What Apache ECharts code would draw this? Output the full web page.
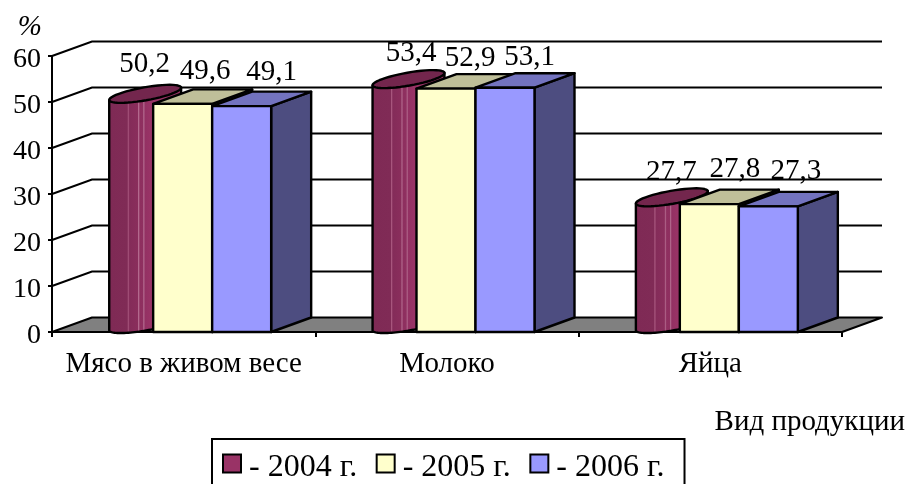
<!DOCTYPE html>
<html><head><meta charset="utf-8">
<style>html,body{margin:0;padding:0;background:#fff;overflow:hidden}#c{width:908px;height:484px}</style>
<script src="https://cdn.jsdelivr.net/npm/echarts@6/dist/echarts.min.js"></script>
</head><body><div id="c"></div>
<script>
var categories = ['Мясо в живом весе', 'Молоко', 'Яйца'];
var yTicks = [0, 10, 20, 30, 40, 50, 60];
var values2004 = [50.2, 53.4, 27.7];
var values2005 = [49.6, 52.9, 27.8];
var values2006 = [49.1, 53.1, 27.3];
var seriesNames = ['- 2004 г.', '- 2005 г.', '- 2006 г.'];

// layout constants
var FONT = '"Liberation Serif","Times New Roman",serif';
var DX = 40, DY = 14.5, BAR_W = 59, SHIFT = -1, LW = 2, BAR_LW = 2.4;
// label offset from the top-front centre of each bar
var labelNudge = [
  [[21, -37], [24, -33], [21, -32]],
  [[22.5, -32.5], [24, -30], [25.5, -35]],
  [[30, -34], [24.5, -30], [27.5, -35]]
];
var stripes = new echarts.graphic.LinearGradient(0, 0, 1, 0, [
  {offset: 0, color: '#6f2449'}, {offset: 0.03, color: '#7f2a55'},
  {offset: 0.26, color: '#802b56'}, {offset: 0.27, color: '#a9587f'}, {offset: 0.29, color: '#842c59'},
  {offset: 0.40, color: '#8a2e5c'}, {offset: 0.41, color: '#b36a8e'}, {offset: 0.43, color: '#8e2f5f'},
  {offset: 0.47, color: '#8f3060'}, {offset: 0.48, color: '#b36a8e'}, {offset: 0.50, color: '#933163'},
  {offset: 0.57, color: '#993366'}, {offset: 1, color: '#993366'}
]);

function ellipsePoints(cx, cy, a, b, from, to) {
  var pts = [], rot = -10 * Math.PI / 180, n = 48;
  for (var i = 0; i <= n; i++) {
    var t = from + (to - from) * i / n;
    var ex = a * Math.cos(t), ey = b * Math.sin(t);
    pts.push([cx + ex * Math.cos(rot) - ey * Math.sin(rot), cy + ex * Math.sin(rot) + ey * Math.cos(rot)]);
  }
  return pts;
}
function face(points, fill, lw) {
  return {type: 'polygon', shape: {points: points}, style: {fill: fill, stroke: '#000', lineWidth: lw || BAR_LW, lineJoin: 'round'}};
}
function makeBarRenderer(slot, front, top, side) {
  return function (params, api) {
    var idx = api.value(0), val = api.value(1);
    var p = api.coord([idx, val]), base = api.coord([idx, 0]);
    var x0 = p[0] + SHIFT + (slot - 1.5) * BAR_W, x1 = x0 + BAR_W, y = p[1], yb = base[1];
    var kids = [];
    if (slot === 0) {
      var cx = x0 + BAR_W / 2 + DX / 2 + 1.5, cy = y - DY / 2, a = 36.5, b = 6.5;
      var lower = ellipsePoints(cx, yb - DY / 2 - 0.7, a, b, Math.PI, 0);
      var left = ellipsePoints(cx, cy, a, b, Math.PI, Math.PI)[0];
      var right = ellipsePoints(cx, cy, a, b, 0, 0)[0];
      kids.push(face([left].concat(lower).concat([right]), stripes));
      kids.push(face(ellipsePoints(cx, cy, a, b, 0, Math.PI * 2), top));
    } else {
      kids.push(face([[x1, yb], [x1 + DX, yb - DY], [x1 + DX, y - DY], [x1, y]], side));
      kids.push(face([[x0, y], [x1, y], [x1 + DX, y - DY], [x0 + DX, y - DY]], top));
      kids.push(face([[x0, yb], [x1, yb], [x1, y], [x0, y]], front));
    }
    return {type: 'group', children: kids};
  };
}
function makeLabelRenderer(slot) {
  return function (params, api) {
    var idx = api.value(0), val = api.value(1);
    var p = api.coord([idx, val]);
    var n = labelNudge[slot][idx];
    return {type: 'text', style: {
      text: val.toFixed(1).replace('.', ','),
      x: p[0] + SHIFT + (slot - 1) * BAR_W + n[0], y: p[1] + n[1],
      align: 'center', verticalAlign: 'middle', font: '29px ' + FONT, fill: '#000'
    }};
  };
}
function renderWall(params, api) {
  var v = api.value(1), y = api.coord([0, v])[1], cs = params.coordSys;
  var kids = [];
  if (v === 0) {
    kids.push(face([[cs.x, y], [cs.x + cs.width, y], [cs.x + cs.width + DX, y - DY], [cs.x + DX, y - DY]], '#808080', LW));
  } else {
    kids.push({type: 'polyline', shape: {points: [[cs.x, y], [cs.x + DX, y - DY], [cs.x + cs.width + DX, y - DY]]},
      style: {fill: 'none', stroke: '#000', lineWidth: LW}});
  }
  return {type: 'group', children: kids};
}
function pairs(arr) { return arr.map(function (v, i) { return [i, v]; }); }

var yearData = [values2004, values2005, values2006];
var barStyles = [
  ['#993366', '#73264d', '#73264d'],
  ['#ffffcc', '#bfbf99', '#808066'],
  ['#9999ff', '#7373bf', '#4d4d80']
];
var series = [{
  type: 'custom', silent: true, z: 1, clip: false, renderItem: renderWall,
  data: yTicks.map(function (t) { return [0, t]; })
}];
yearData.forEach(function (d, s) {
  series.push({
    type: 'custom', name: seriesNames[s], z: 2 + s, clip: false, silent: true,
    itemStyle: {color: barStyles[s][0]},
    renderItem: makeBarRenderer(s, barStyles[s][0], barStyles[s][1], barStyles[s][2]),
    data: pairs(d)
  });
});
yearData.forEach(function (d, s) {
  series.push({type: 'custom', z: 6, clip: false, silent: true, renderItem: makeLabelRenderer(s), data: pairs(d)});
});

var chart = echarts.init(document.getElementById('c'), null, {renderer: 'canvas'});
chart.setOption({
  animation: false,
  backgroundColor: '#fff',
  grid: {left: 52, top: 56, width: 790, height: 276, containLabel: false},
  xAxis: {
    type: 'category', data: categories,
    name: 'Вид продукции', nameLocation: 'end', nameGap: 63,
    nameTextStyle: {fontFamily: FONT, fontSize: 29, color: '#000', align: 'right', verticalAlign: 'top', padding: [76, 0, 0, 0]},
    axisLine: {lineStyle: {color: '#000', width: LW}},
    axisTick: {show: true, interval: 0, length: 5, lineStyle: {color: '#000', width: LW}},
    axisLabel: {interval: 0, fontFamily: FONT, fontSize: 29, color: '#000', margin: 18},
    splitLine: {show: false}
  },
  yAxis: {
    type: 'value', min: 0, max: 60, interval: 10,
    name: '%', nameLocation: 'end', nameGap: 14,
    nameTextStyle: {fontFamily: FONT, fontSize: 29, fontStyle: 'italic', color: '#000', align: 'right', padding: [0, 10, 0, 0]},
    axisLine: {show: true, lineStyle: {color: '#000', width: LW}},
    axisTick: {show: true, length: 4, lineStyle: {color: '#000', width: LW}},
    axisLabel: {
      formatter: '{a|{value}}', margin: 11,
      rich: {a: {fontFamily: FONT, fontSize: 28, color: '#000', padding: [7, 0, 0, 0]}}
    },
    splitLine: {show: false}
  },
  legend: {
    data: seriesNames, left: 212, top: 439, icon: 'rect',
    orient: 'horizontal', itemWidth: 18, itemHeight: 18, itemGap: 18.5, padding: [13, 20, 30, 10],
    borderColor: '#000', borderWidth: 2, backgroundColor: '#fff',
    itemStyle: {borderColor: '#000', borderWidth: 2},
    formatter: '{a|{name}}',
    textStyle: {
      fontFamily: FONT, fontSize: 32, color: '#000',
      rich: {a: {fontFamily: FONT, fontSize: 32, color: '#000', padding: [9, 0, 0, 3]}}
    },
    selectedMode: false
  },
  series: series
});
</script></body></html>
